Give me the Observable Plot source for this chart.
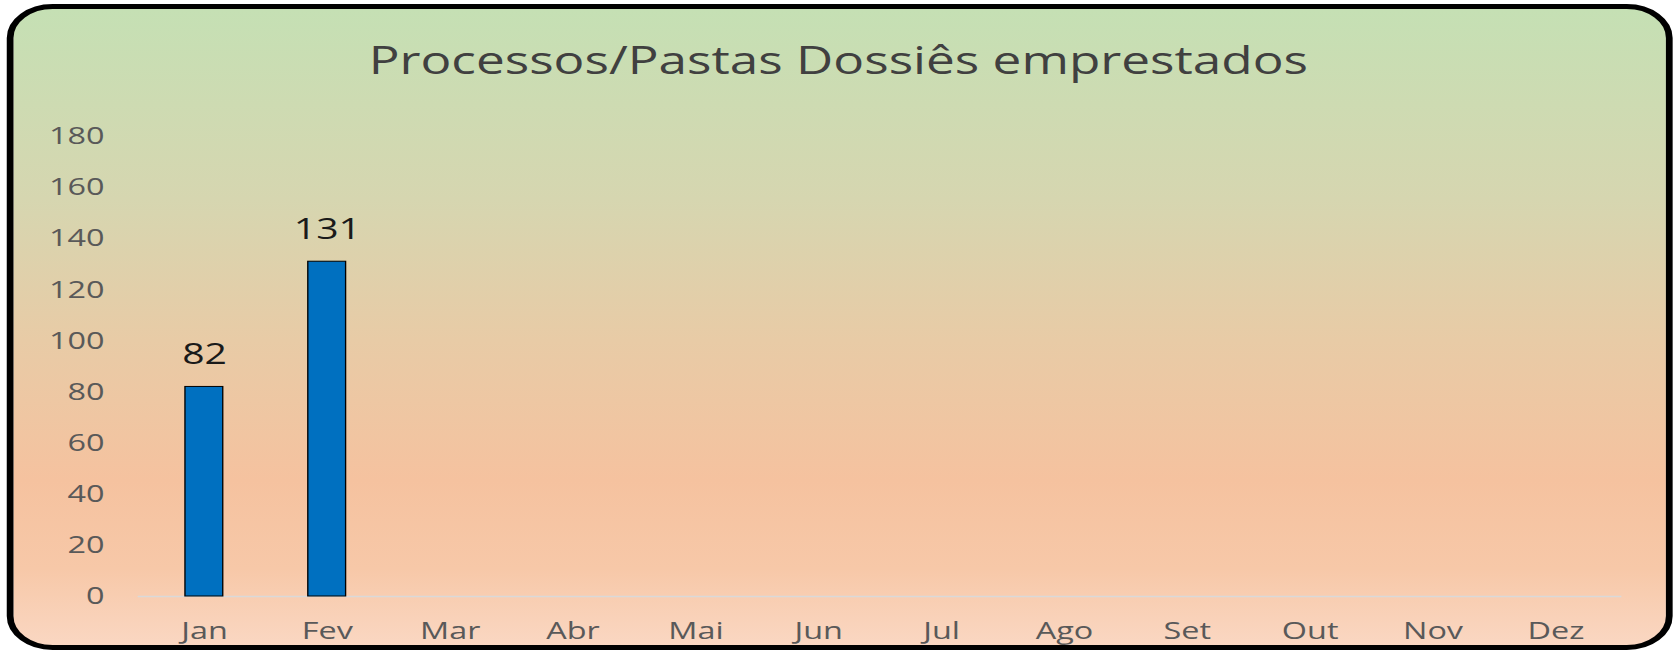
<!DOCTYPE html>
<html>
<head>
<meta charset="utf-8">
<script src="https://cdn.jsdelivr.net/npm/d3@7"></script>
<script src="https://cdn.jsdelivr.net/npm/@observablehq/plot@0.6"></script>
<style>
  html, body { margin: 0; padding: 0; background: #ffffff; overflow: hidden; }
  #stage { position: absolute; left: 0; top: 0; width: 1242px; height: 653px;
           transform: scaleX(1.35); transform-origin: 0 0; font-family: "Open Sans", sans-serif; }
  #box { position: absolute; left: 5px; top: 4px; width: 1224px; height: 636px;
         border: 5px solid #000; border-radius: 34px;
         background: linear-gradient(to bottom, #C5E0B4 0%, #D6D6B0 30%, #E8CBA6 52%, #F5C29F 74%, #F7C8A8 88%, #FAD7C2 100%); }
  #title { position: absolute; left: 0; width: 1242px; top: 34px; text-align: center;
           font-size: 38px; color: #404040; line-height: 50px; }
  #chart { position: absolute; left: 0; top: 0; }
</style>
</head>
<body>
<div id="stage">
  <div id="box"></div>
  <div id="title">Processos/Pastas Dossiês emprestados</div>
  <div id="chart"></div>
</div>
<script>
const months = ["Jan","Fev","Mar","Abr","Mai","Jun","Jul","Ago","Set","Out","Nov","Dez"];
const values = [82, 131, null, null, null, null, null, null, null, null, null, null];
const yTicks = [0, 20, 40, 60, 80, 100, 120, 140, 160, 180];

const data = months.map((m, i) => ({month: m, value: values[i]}));
const present = data.filter(d => d.value != null);

const plot = Plot.plot({
  width: 1242,
  height: 653,
  marginLeft: 102,
  marginRight: 41,
  marginTop: 136,
  marginBottom: 57,
  style: {background: "transparent", fontFamily: "Open Sans, sans-serif", overflow: "visible"},
  x: {domain: months, paddingInner: 0.69, paddingOuter: 0.345, label: null},
  y: {domain: [0, 180], label: null},
  marks: [
    Plot.axisY({ticks: yTicks, tickSize: 0, tickPadding: 25, fontSize: 24, fill: "#595959", label: null}),
    Plot.axisX({tickSize: 0, tickPadding: 25, fontSize: 24, fill: "#595959", label: null}),
    Plot.ruleY([0], {stroke: "#d9d9d9", strokeWidth: 1.5}),
    Plot.barY(present, {x: "month", y: "value", fill: "#0070C0", stroke: "#000", strokeWidth: 1}),
    Plot.text(present, {x: "month", y: "value", text: d => String(d.value), dy: -32, fontSize: 29, fill: "#1a1a1a"})
  ]
});
document.getElementById("chart").appendChild(plot);
</script>
</body>
</html>
